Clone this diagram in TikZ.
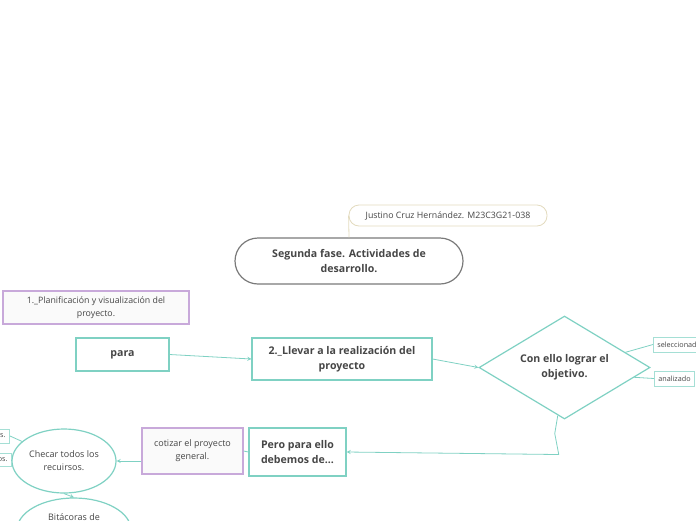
\documentclass[tikz,border=0pt]{standalone}
\usepackage{fontspec}
\setmainfont{Open Sans}
\usetikzlibrary{shapes.geometric, positioning, arrows}
\definecolor{tuerkis}{HTML}{7FD1C3}
\definecolor{lila}{HTML}{C8A9DA}
\definecolor{sand}{HTML}{E3DBBE}
\definecolor{rand}{HTML}{7A7A7A}
\definecolor{schrift}{HTML}{464646}
\tikzset{
    every node/.style={ % Grundeinstellung fuer alle Knoten
        text=schrift,
        align=center,
        inner sep=0pt
    },
    haupt/.style={
        draw=rand, line width=1.2pt, fill=white,
        rounded corners=23pt,
        font=\bfseries\fontsize{10.6}{15}\selectfont
    },
    kasten/.style={ % tuerkise Kaesten
        draw=tuerkis, line width=1.2pt, fill=white,
        font=\bfseries\fontsize{10.6}{15}\selectfont
    },
    lilakasten/.style={
        draw=lila, line width=1.2pt, fill=gray!4,
        font=\fontsize{8.8}{13}\selectfont
    },
    notiz/.style={ % kleine Kaesten am Rand
        draw=tuerkis!70, line width=0.8pt, fill=white,
        inner xsep=4pt,
        font=\fontsize{7.2}{8}\selectfont
    },
    verbindung/.style={
        draw=tuerkis, line width=0.8pt
    },
    pfeil/.style={
        verbindung, ->, >=stealth
    }
}
\begin{document}
\begin{tikzpicture}[x=1pt, y=-1pt]
        \useasboundingbox (0,0) rectangle (696,520);
        \clip (0,0) rectangle (696,520);
        % obere zeile
        \node[draw=sand, line width=0.8pt, rounded corners=10pt, fill=white,
              minimum width=198pt, minimum height=21pt,
              font=\fontsize{8.8}{10}\selectfont]           (autor)   at (448,215.5)
              {Justino Cruz Hernández. M23C3G21-038};
        \node[haupt, minimum width=228pt, minimum height=46pt] (fase)  at (349,261)
              {Segunda fase. Actividades de\\desarrollo.};
        % mittlere zeile
        \node[lilakasten, minimum width=186pt, minimum height=33pt] (planung) at (96,307.5)
              {1.\_Planificación y visualización del\\proyecto.};
        \node[kasten, minimum width=93pt, minimum height=33pt]      (para)    at (122.5,354.5)
              {para};
        \node[kasten, minimum width=180pt, minimum height=42pt]     (llevar)  at (342,359)
              {2.\_Llevar a la realización del\\proyecto};
        \node[kasten, diamond, inner sep=-12pt,
              minimum width=171pt, minimum height=103pt]            (ziel)    at (564.5,367.5)
              {Con ello lograr el\\objetivo.};
        \node[notiz, anchor=west, minimum height=15pt]              (seleccion) at (653,344.5)
              {seleccionado};
        \node[notiz, anchor=west, minimum height=15pt]              (analisis)  at (654,378.5)
              {analizado};
        % untere zeile
        \node[kasten, minimum width=97pt, minimum height=48pt]      (pero)    at (297.5,452)
              {Pero para ello\\debemos de...};
        \node[lilakasten, minimum width=101pt, minimum height=46pt,
              font=\fontsize{9}{13}\selectfont]                     (cotizar) at (192.5,451)
              {cotizar el proyecto\\general.};
        \node[kasten, ellipse, minimum width=104pt, minimum height=64pt,
              font=\fontsize{9}{13}\selectfont]                     (checar)  at (64,461)
              {Checar todos los\\recuirsos.};
        \node[notiz, anchor=east, minimum height=14pt]              (rest1)   at (10,436)
              {s.};
        \node[notiz, anchor=east, minimum height=13pt]              (rest2)   at (12,459.5)
              {os.};
        \node[kasten, ellipse, minimum width=114pt, minimum height=64pt,
              font=\fontsize{9}{13}\selectfont]                     (bitacoras) at (74,530)
              {Bitácoras de\\\mbox{}\\\mbox{}};

        % verbindungen
        \draw[draw=sand, line width=0.8pt] (autor.west) -- (fase.north);
        \draw[pfeil] (para.east) -- (llevar.west);
        \draw[pfeil] (llevar.east) -- (ziel.west);
        \draw[verbindung] (ziel.14) -- (seleccion.west);
        \draw[verbindung] (ziel.-8) -- (analisis.west);
        \draw[pfeil] (ziel.262) -- ++(-3,18) -- ++(4,21) -- (pero.east);
        \draw[verbindung] (pero.west) -- (cotizar.east);
        \draw[pfeil] (cotizar.west |- checar.east) -- (checar.east);
        \draw[verbindung] (checar.155) -- (rest1.east);
        \draw[verbindung] (checar.west) -- (rest2.east);
        \draw[pfeil] (checar.south) -- (bitacoras.north);
        %\draw[step=20pt,gray,very thin] (0,0) grid (696,520);
    \end{tikzpicture}
\end{document}
